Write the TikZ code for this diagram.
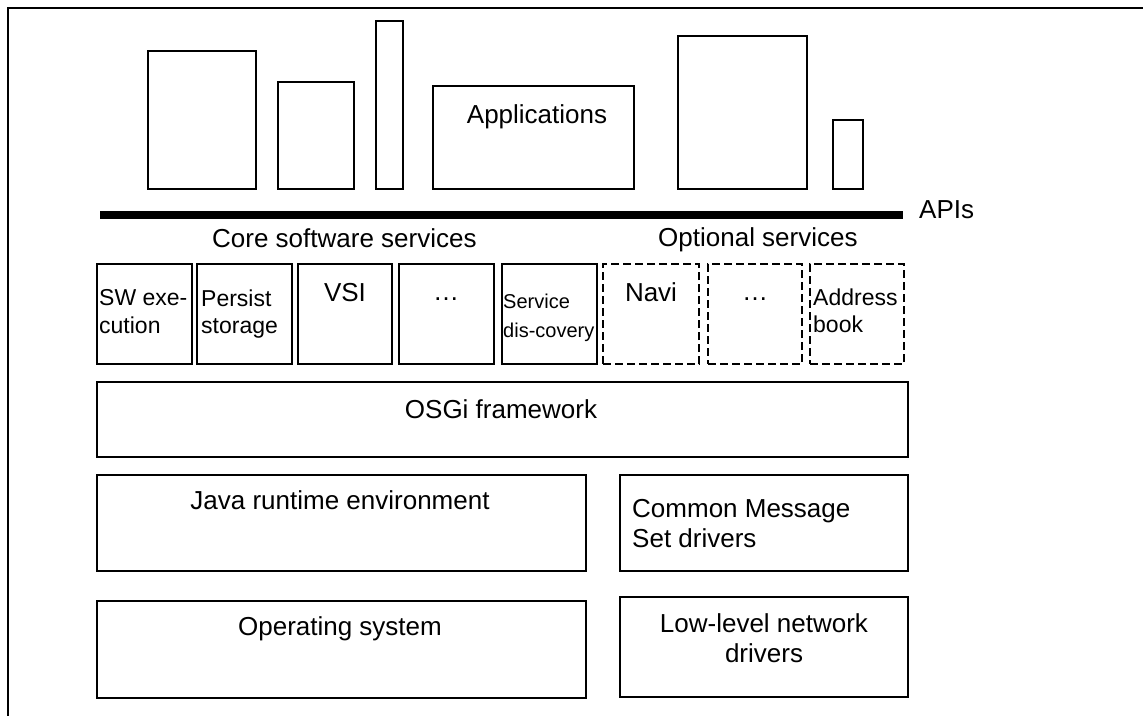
\documentclass[tikz,border=0pt]{standalone}
\usepackage{fontspec}
\setmainfont{Liberation Sans}
\usetikzlibrary{fit}
\begin{document}
\begin{tikzpicture}[x=1pt,y=-1pt,
  box/.style={draw, line width=2pt, inner sep=0pt, rectangle},
  dbox/.style={box, dash pattern=on 8pt off 4pt},
  big/.style={inner sep=0pt, font=\fontsize{26}{30}\selectfont},
  mid/.style={inner sep=0pt, align=left, font=\fontsize{23}{27.5}\selectfont},
  small/.style={inner sep=0pt, align=left, font=\fontsize{20}{29}\selectfont}]
\useasboundingbox (0,0) rectangle (1143,715);
% outer frame
\draw[line width=2pt] (8,716) -- (8,8) -- (1144,8);
% application boxes
\node[box, fit={(148,51)(256,189)}] (app1) {};
\node[box, fit={(278,82)(354,189)}] (app2) {};
\node[box, fit={(376,21)(403,189)}] (app3) {};
\node[box, fit={(433,86)(634,189)}] (apps) {};
\node[big, anchor=base] (appst) at (537,123) {Applications};
\node[box, fit={(678,36)(807,189)}] (app5) {};
\node[box, fit={(833,120)(863,189)}] (app6) {};
% API bar
\node[fill=black, inner sep=0pt, fit={(100,211)(903,218.5)}] (apibar) {};
\node[big, anchor=base west] (apis) at (919,218) {APIs};
\node[big, anchor=base west] (core) at (212,247) {Core software services};
\node[big, anchor=base west] (opt) at (658,246) {Optional services};
% service boxes
\node[box, fit={(97,264)(192,364)}] (sw) {};
\node[mid, anchor=north west] (swt) at (99,289.5) {SW exe-\\cution};
\node[box, fit={(197,264)(292,364)}] (ps) {};
\node[mid, anchor=north west] (pst) at (201,289.5) {Persist\\storage};
\node[box, fit={(298,264)(392,364)}] (vsi) {};
\node[big, anchor=base] (vsit) at (345,301) {VSI};
\node[box, fit={(399,264)(494,364)}] (dots1) {};
\node[big, anchor=base] (dots1t) at (446,300) {…};
\node[box, fit={(502,264)(597,364)}] (sd) {};
\node[small, anchor=north west] (sdt) at (503,293.5) {Service\\dis-covery};
\node[dbox, fit={(603,264)(699,364)}] (navi) {};
\node[big, anchor=base] (navit) at (651,301) {Navi};
\node[dbox, fit={(708,264)(802,364)}] (dots2) {};
\node[big, anchor=base] (dots2t) at (755,300) {…};
\node[dbox, fit={(810,264)(904,364)}] (ab) {};
\node[mid, anchor=north west] (abt) at (813,288.5) {Address\\book};
% platform layers
\node[box, fit={(97,382)(908,457)}] (osgi) {};
\node[big, anchor=base] (osgit) at (501,418) {OSGi framework};
\node[box, fit={(97,475)(586,571)}] (jre) {};
\node[big, anchor=base] (jret) at (340,509) {Java runtime environment};
\node[box, fit={(620,475)(908,571)}] (cms) {};
\node[big, align=left, anchor=north west] (cmst) at (632,499.5) {Common Message\\Set drivers};
\node[box, fit={(97,601)(586,698)}] (os) {};
\node[big, anchor=base] (ost) at (340,635) {Operating system};
\node[box, fit={(620,597)(908,697)}] (ll) {};
\node[big, align=center, anchor=north] (llt) at (764,613.5) {Low-level network\\drivers};
\end{tikzpicture}
\end{document}
